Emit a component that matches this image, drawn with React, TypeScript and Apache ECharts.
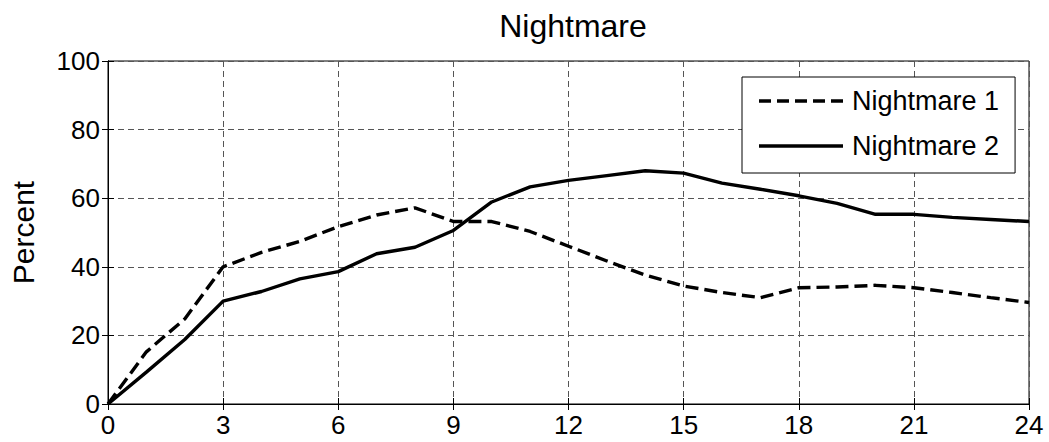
import React, { useEffect, useRef } from "react";
import * as echarts from "echarts";

const hours = [0, 1, 2, 3, 4, 5, 6, 7, 8, 9, 10, 11, 12, 13, 14, 15, 16, 17, 18, 19, 20, 21, 22, 23, 24];
const nightmare1 = [0, 15.2, 24.8, 40, 44.2, 47.4, 51.7, 55.1, 57.2, 53.2, 53.2, 50.3, 46, 41.7, 37.6, 34.4, 32.5, 31, 33.9, 34.1, 34.6, 33.9, 32.5, 31, 29.6];
const nightmare2 = [0, 9.3, 18.8, 30, 32.8, 36.5, 38.6, 43.8, 45.7, 50.6, 58.9, 63.3, 65.2, 66.6, 68, 67.3, 64.4, 62.6, 60.7, 58.5, 55.3, 55.3, 54.4, 53.8, 53.2];
const seriesNames = ["Nightmare 1", "Nightmare 2"];
const chartTitle = "Nightmare";
const yName = "Percent";

const FONT = "Liberation Sans, Arial, Helvetica, sans-serif";

const DASH_ICON =
  "path://M0 0h12v3.4H0z M18 0h12v3.4H18z M36 0h12v3.4H36z M54 0h12v3.4H54z M72 0h12v3.4H72z";
const SOLID_ICON = "path://M0 0h84v3.4H0z";

export default function App() {
  const ref = useRef<HTMLDivElement>(null);
  useEffect(() => {
    if (!ref.current) return;
    const chart = echarts.init(ref.current, null, { renderer: "svg" });
    const pairs = (vals: number[]) => hours.map((h, i) => [h, vals[i]]);
    const dash = [13, 6];
    const LW = 3.4;
    chart.setOption({
      animation: false,
      backgroundColor: "#fff",
      textStyle: { fontFamily: FONT, color: "#000" },
      title: {
        text: chartTitle,
        left: 568,
        textAlign: "center",
        top: 5,
        textStyle: { fontFamily: FONT, fontSize: 32, fontWeight: "normal", color: "#000" },
      },
      legend: {
        orient: "vertical",
        left: 742,
        top: 77,
        width: 275,
        backgroundColor: "#fff",
        borderColor: "#000",
        borderWidth: 1,
        padding: [9, 16, 12, 17],
        itemWidth: 84,
        itemHeight: 3.4,
        itemGap: 15,
        symbolKeepAspect: false,
        itemStyle: { color: "#000", borderWidth: 0 },
        textStyle: { fontFamily: FONT, fontSize: 27, color: "#000", lineHeight: 30, padding: [0, 0, 0, 4] },
        data: [
          { name: seriesNames[0], icon: DASH_ICON },
          { name: seriesNames[1], icon: SOLID_ICON },
        ],
      },
      grid: {
        left: 108,
        right: 20,
        top: 61,
        bottom: 38,
        show: true,
        borderColor: "#000",
        borderWidth: 1,
        backgroundColor: "#fff",
      },
      xAxis: [
        {
          type: "value",
          min: 0,
          max: 24,
          interval: 3,
          axisLine: { show: true, lineStyle: { color: "#000", width: 1 } },
          axisTick: { show: true, inside: true, length: 6, lineStyle: { color: "#000" } },
          axisLabel: { fontFamily: FONT, fontSize: 26, color: "#000", margin: 8 },
          splitLine: { show: true, lineStyle: { color: "#555", width: 1, type: [6, 4] } },
        },
        {
          type: "value",
          position: "top",
          min: 0,
          max: 24,
          interval: 3,
          axisLine: { show: true, lineStyle: { color: "#000", width: 1 } },
          axisTick: { show: true, inside: true, length: 6, lineStyle: { color: "#000" } },
          axisLabel: { show: false },
          splitLine: { show: false },
        },
      ],
      yAxis: [
        {
          type: "value",
          min: 0,
          max: 100,
          interval: 20,
          name: yName,
          nameLocation: "middle",
          nameGap: 70,
          nameTextStyle: { fontFamily: FONT, fontSize: 30, color: "#000" },
          axisLine: { show: true, lineStyle: { color: "#000", width: 1 } },
          axisTick: { show: true, inside: true, length: 6, lineStyle: { color: "#000" } },
          axisLabel: { fontFamily: FONT, fontSize: 26, color: "#000", margin: 8 },
          splitLine: { show: true, lineStyle: { color: "#555", width: 1, type: [6, 4] } },
        },
        {
          type: "value",
          position: "right",
          min: 0,
          max: 100,
          interval: 20,
          axisLine: { show: true, lineStyle: { color: "#000", width: 1 } },
          axisTick: { show: true, inside: true, length: 6, lineStyle: { color: "#000" } },
          axisLabel: { show: false },
          splitLine: { show: false },
        },
      ],
      series: [
        {
          name: seriesNames[0],
          type: "line",
          data: pairs(nightmare1),
          showSymbol: false,
          symbol: "none",
          lineStyle: { color: "#000", width: LW, type: dash },
          itemStyle: { color: "#000" },
          z: 3,
        },
        {
          name: seriesNames[1],
          type: "line",
          data: pairs(nightmare2),
          showSymbol: false,
          symbol: "none",
          lineStyle: { color: "#000", width: LW, type: "solid" },
          itemStyle: { color: "#000" },
          z: 3,
        },
      ],
    });
    return () => chart.dispose();
  }, []);
  return (
    <div
      ref={ref}
      style={{ position: "absolute", left: 0, top: 0, width: 1049, height: 442 }}
    />
  );
}
